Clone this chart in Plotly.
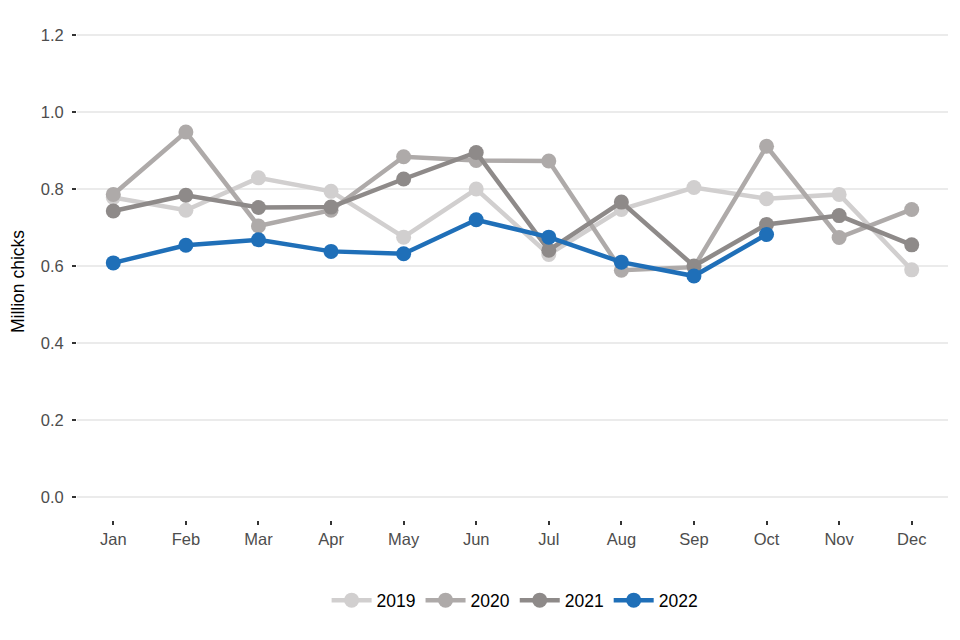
import plotly.graph_objects as go

months = ["Jan", "Feb", "Mar", "Apr", "May", "Jun", "Jul", "Aug", "Sep", "Oct", "Nov", "Dec"]

y2019 = [0.778, 0.745, 0.829, 0.794, 0.675, 0.800, 0.630, 0.747, 0.804, 0.775, 0.786, 0.590]
y2020 = [0.786, 0.948, 0.704, 0.745, 0.884, 0.874, 0.873, 0.589, 0.597, 0.911, 0.674, 0.747]
y2021 = [0.743, 0.784, 0.752, 0.753, 0.826, 0.895, 0.641, 0.766, 0.600, 0.708, 0.731, 0.655]
y2022 = [0.608, 0.654, 0.668, 0.638, 0.632, 0.720, 0.675, 0.610, 0.574, 0.682]

series = [
    ("2019", y2019, "#d1cfcf"),
    ("2020", y2020, "#aeaaa9"),
    ("2021", y2021, "#8e8a89"),
    ("2022", y2022, "#1f6fb8"),
]

fig = go.Figure()
for name, vals, col in series:
    fig.add_trace(go.Scatter(
        x=months[:len(vals)], y=vals, name=name, mode="lines+markers",
        line=dict(color=col, width=4.5),
        marker=dict(color=col, size=15),
    ))

# page has an 8px body margin: figure coords = page coords - 8
fig.update_layout(
    width=960, height=640,
    margin=dict(l=69, r=20, t=4, b=128),
    paper_bgcolor="white", plot_bgcolor="white",
    font=dict(family="Liberation Sans, Arial, sans-serif", color="#000000"),
    showlegend=True,
    legend=dict(orientation="h", x=0.503, xanchor="center", y=-0.158, yanchor="middle",
                font=dict(size=17.5, color="#000000"), itemwidth=40, traceorder="normal"),
    annotations=[dict(
        text="Million chicks", textangle=-90, showarrow=False,
        xref="paper", yref="paper", x=-0.0677, y=0.4685,
        xanchor="center", yanchor="middle",
        font=dict(size=17.5, color="#000000"),
    )],
)
fig.update_xaxes(
    type="category", categoryorder="array", categoryarray=months,
    range=[-0.5, 11.5], showgrid=False, zeroline=False, showline=False,
    ticks="outside", ticklen=4, tickwidth=1.5, tickcolor="#333333",
    tickfont=dict(size=16.5, color="#4d4d4d"), automargin=False,
)
fig.update_yaxes(
    range=[-0.06, 1.26], tickvals=[0, 0.2, 0.4, 0.6, 0.8, 1.0, 1.2],
    ticktext=["0.0", "0.2", "0.4", "0.6", "0.8", "1.0", "1.2"],
    showgrid=True, gridcolor="#ebebeb", gridwidth=1.5, zeroline=False, showline=False,
    ticks="outside", ticklen=4, tickwidth=1.5, tickcolor="#333333",
    ticklabelstandoff=5,
    tickfont=dict(size=16.5, color="#4d4d4d"), automargin=False,
)

fig.write_html("out.html")
